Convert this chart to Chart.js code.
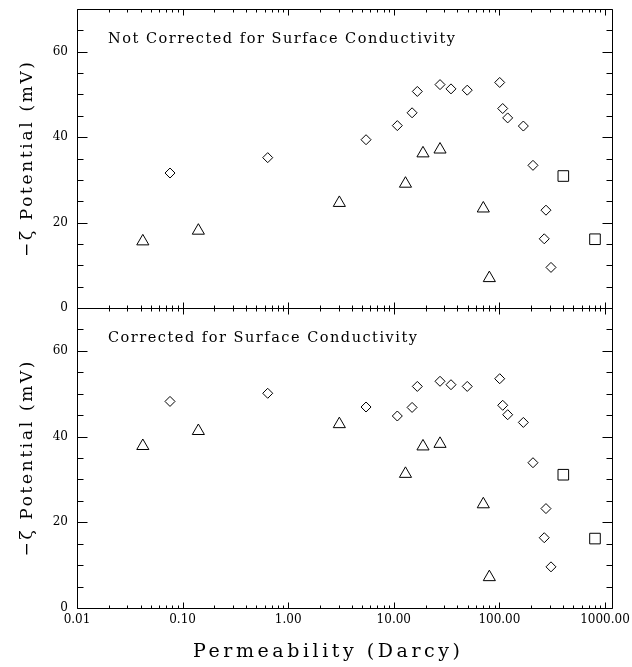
<!DOCTYPE html>
<html><head><meta charset="utf-8">
<script src="https://cdn.jsdelivr.net/npm/chart.js@4"></script>
<style>
html,body{margin:0;padding:0;background:#fff;}
#wrap{position:relative;width:632px;height:667px;background:#fff;}
#wrap canvas{position:absolute;left:0;top:0;}
</style></head><body>
<div id="wrap"><canvas id="c1" width="632" height="667"></canvas><canvas id="c2" width="632" height="667"></canvas></div>
<script>
// ---- data ----
const diamondX      = [0.076, 0.64, 5.46, 10.8, 14.9, 16.7, 27.4, 34.8, 49.6, 100.7, 107.5, 119.8, 168.6, 208, 276, 266, 308];
const diamondTop    = [31.6, 35.2, 39.4, 42.7, 45.7, 50.7, 52.3, 51.3, 51.0, 52.8, 46.7, 44.5, 42.6, 33.4, 22.9, 16.2, 9.5];
const diamondBottom = [48.2, 50.1, 46.9, 44.8, 46.8, 51.7, 52.9, 52.1, 51.7, 53.5, 47.3, 45.1, 43.3, 33.9, 23.2, 16.4, 9.6];
const triangleX      = [0.042, 0.141, 3.05, 12.9, 18.9, 27.4, 70.4, 80.3];
const triangleTop    = [15.6, 18.1, 24.6, 29.1, 36.2, 37.1, 23.3, 7.0];
const triangleBottom = [37.8, 41.3, 42.9, 31.3, 37.7, 38.3, 24.2, 7.2];
const squareX      = [403, 804];
const squareTop    = [30.9, 16.1];
const squareBottom = [31.1, 16.2];
const xTickValues = [0.01, 0.1, 1, 10, 100, 1000];
const xTickLabels = ["0.01", "0.10", "1.00", "10.00", "100.00", "1000.00"];
const yTickValues = [0, 20, 40, 60];
const yTickLabels = ["0", "20", "40", "60"];
const panelTitles = ["Not Corrected for Surface Conductivity", "Corrected for Surface Conductivity"];
const yTitle = "\u2212\u03B6 Potential (mV)";
const xTitle = "Permeability (Darcy)";

const SERIF = "'DejaVu Serif', 'Liberation Serif', serif";

function drawSpaced(ctx, text, x, y, size, target) {
  ctx.font = size + "px " + SERIF;
  ctx.letterSpacing = "0px";
  const w = ctx.measureText(text).width;
  const n = Array.from(text).length;
  const ls = (target - w) / (n - 1);
  ctx.letterSpacing = ls + "px";
  ctx.textAlign = "left";
  ctx.textBaseline = "alphabetic";
  ctx.fillText(text, x, y);
  ctx.letterSpacing = "0px";
}

const framePlugin = {
  id: "frame",
  afterDraw(chart, args, opts) {
    const ctx = chart.ctx, a = chart.chartArea, xs = chart.scales.x, ys = chart.scales.y;
    ctx.save();
    ctx.strokeStyle = "#000";
    ctx.lineWidth = 1;
    const L = Math.round(a.left) + 0.5, R = Math.round(a.right) + 0.5;
    const T = Math.round(a.top) + 0.5, B = Math.round(a.bottom) + 0.5;
    ctx.beginPath();
    ctx.rect(L, T, R - L, B - T);
    // y ticks, inward on both sides
    for (let v = 0; v <= ys.max; v += 5) {
      const py = Math.round(ys.getPixelForValue(v)) + 0.5;
      const len = (v % 20 === 0) ? 10 : 6;
      ctx.moveTo(L, py); ctx.lineTo(L + len, py);
      ctx.moveTo(R, py); ctx.lineTo(R - len, py);
    }
    // x ticks, inward top and bottom
    for (let d = xs.min; d <= xs.max; d *= 10) {
      for (let m = 1; m <= 9; m++) {
        const v = d * m;
        if (v > xs.max * 1.0001) break;
        const px = Math.round(xs.getPixelForValue(v)) + 0.5;
        const len = (m === 1) ? 6 : 3;
        ctx.moveTo(px, T); ctx.lineTo(px, T + len);
        ctx.moveTo(px, B); ctx.lineTo(px, B - len);
      }
    }
    ctx.stroke();

    // texts
    ctx.fillStyle = "#000";
    drawSpaced(ctx, opts.title, 108, a.top + 33.5, 14.5, opts.titleWidth);
    const cy = (a.top + a.bottom) / 2 + 1;
    ctx.save();
    ctx.translate(32, cy + 97.5);
    ctx.rotate(-Math.PI / 2);
    drawSpaced(ctx, yTitle, 0, 0, 17, 195);
    ctx.restore();
    if (opts.xTitle) {
      drawSpaced(ctx, xTitle, 193, 657, 19, 267);
    }
    ctx.restore();
  }
};

function pts(xs, ys) { return xs.map((x, i) => ({ x: x, y: ys[i] })); }

function makeChart(id, dY, tY, sY, isBottom) {
  const common = { borderColor: "#000", backgroundColor: "rgba(0,0,0,0)", borderWidth: 1, pointHoverRadius: 0 };
  return new Chart(document.getElementById(id), {
    type: "scatter",
    data: {
      datasets: [
        Object.assign({ data: pts(diamondX, dY), pointStyle: "rectRot", pointRadius: 5 }, common),
        Object.assign({ data: pts(triangleX, tY), pointStyle: "triangle", pointRadius: 7 }, common),
        Object.assign({ data: pts(squareX, sY), pointStyle: "rect", pointRadius: 7.5 }, common)
      ]
    },
    options: {
      responsive: false, animation: false, devicePixelRatio: 1,
      layout: { padding: { left: 0, right: 20, top: isBottom ? 308 : 9, bottom: isBottom ? 0 : 359 } },
      plugins: {
        legend: { display: false }, tooltip: { enabled: false },
        frame: {
          title: isBottom ? panelTitles[1] : panelTitles[0],
          titleWidth: isBottom ? 309 : 347,
          xTitle: isBottom
        }
      },
      scales: {
        x: {
          type: "logarithmic", min: 0.01, max: 1165, display: isBottom,
          afterBuildTicks: s => { s.ticks = xTickValues.map(v => ({ value: v })); },
          afterFit: s => {
            s.height = isBottom ? 59 : 0;
            s.paddingLeft = 0; s.paddingRight = 0; s.paddingTop = 0; s.paddingBottom = 0;
          },
          ticks: {
            callback: (v, i) => xTickLabels[i],
            font: { family: SERIF, size: 12 }, color: "#000",
            maxRotation: 0, minRotation: 0, autoSkip: false, padding: 5
          },
          grid: { display: false, drawTicks: false },
          border: { display: false }
        },
        y: {
          min: 0, max: 70,
          afterBuildTicks: s => { s.ticks = yTickValues.map(v => ({ value: v })); },
          afterFit: s => {
            s.width = 77;
            s.paddingLeft = 0; s.paddingRight = 0; s.paddingTop = 0; s.paddingBottom = 0;
          },
          ticks: {
            callback: (v, i) => yTickLabels[i],
            font: { family: SERIF, size: 12 }, color: "#000", padding: 9
          },
          grid: { display: false, drawTicks: false },
          border: { display: false }
        }
      }
    },
    plugins: [framePlugin]
  });
}

makeChart("c1", diamondTop, triangleTop, squareTop, false);
makeChart("c2", diamondBottom, triangleBottom, squareBottom, true);
</script>
</body></html>
